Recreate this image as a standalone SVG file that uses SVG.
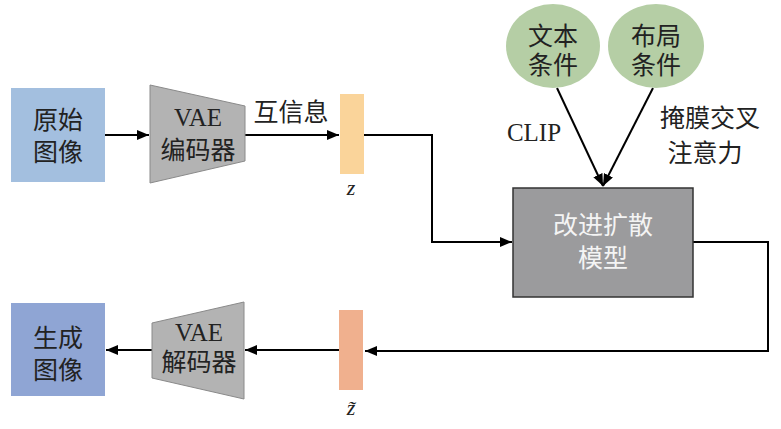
<svg xmlns="http://www.w3.org/2000/svg" width="781" height="429" viewBox="0 0 781 429">
<style>
.t{font-family:"Liberation Serif","Noto Sans CJK SC",serif;font-size:25px;fill:#222;text-anchor:middle}
.w{fill:#f4f4f4}
.ln{fill:none;stroke:#000;stroke-width:2}
.trap{fill:#b3b3b3;stroke:#8a8a8a;stroke-width:1}
.zi{font-family:"Liberation Serif",serif;font-style:italic;font-size:22px;fill:#222;text-anchor:middle}
</style>
<defs>
<marker id="ah" viewBox="0 0 12 10" refX="12" refY="5" markerWidth="12" markerHeight="10" markerUnits="userSpaceOnUse" orient="auto">
<path d="M0,0 L12,5 L0,10 Z" fill="#000"/>
</marker>
</defs>
<rect width="781" height="429" fill="#fff"/>
<g id="connectors">
<line class="ln" x1="105" y1="135" x2="149" y2="135" marker-end="url(#ah)"/>
<line class="ln" x1="245" y1="135" x2="339" y2="135" marker-end="url(#ah)"/>
<polyline class="ln" points="364,135 432,135 432,242 512,242" marker-end="url(#ah)"/>
<line class="ln" x1="557" y1="88" x2="603" y2="186" marker-end="url(#ah)"/>
<line class="ln" x1="653" y1="88" x2="603" y2="186" marker-end="url(#ah)"/>
<polyline class="ln" points="693,242 768,242 768,351 365,351" marker-end="url(#ah)"/>
<line class="ln" x1="339" y1="350" x2="245" y2="350" marker-end="url(#ah)"/>
<line class="ln" x1="152" y1="350" x2="106" y2="350" marker-end="url(#ah)"/>
<text class="t" x="291" y="121">互信息</text>
<text class="t" x="534" y="141">CLIP</text>
<text class="t" x="710" y="127">掩膜交叉</text>
<text class="t" x="705" y="162">注意力</text>
</g>
<g id="orig">
<rect x="11" y="88" width="94" height="94" fill="#a3bfdf"/>
<text class="t" x="58" y="129">原始</text>
<text class="t" x="58" y="161">图像</text>
</g>
<g id="encoder">
<polygon class="trap" points="150,85 245,106 245,161 150,183"/>
<text class="t" x="198" y="126">VAE</text>
<text class="t" x="198" y="159">编码器</text>
</g>
<g id="z">
<rect x="340" y="94" width="24" height="80" fill="#fad49a"/>
<text class="zi" x="351" y="195">z</text>
</g>
<g id="text-cond">
<ellipse cx="553" cy="46" rx="47" ry="42" fill="#b5cea5"/>
<text class="t" x="553" y="45">文本</text>
<text class="t" x="553" y="74">条件</text>
</g>
<g id="layout-cond">
<ellipse cx="656" cy="46" rx="48" ry="42" fill="#b5cea5"/>
<text class="t" x="656" y="45">布局</text>
<text class="t" x="656" y="74">条件</text>
</g>
<g id="model">
<rect x="513" y="188" width="180" height="109" fill="#9b9b9d" stroke="#333" stroke-width="1.5"/>
<text class="t w" x="603" y="234">改进扩散</text>
<text class="t w" x="603" y="267">模型</text>
</g>
<g id="ztilde">
<rect x="339" y="310" width="24" height="80" fill="#f0b08e"/>
<text class="zi" x="351" y="415">z̃</text>
</g>
<g id="decoder">
<polygon class="trap" points="152,323 244,302 244,399 152,378"/>
<text class="t" x="199" y="341">VAE</text>
<text class="t" x="199" y="371">解码器</text>
</g>
<g id="gen">
<rect x="11" y="303" width="94" height="93" fill="#8fa5d4"/>
<text class="t" x="58" y="347">生成</text>
<text class="t" x="58" y="379">图像</text>
</g>
</svg>
